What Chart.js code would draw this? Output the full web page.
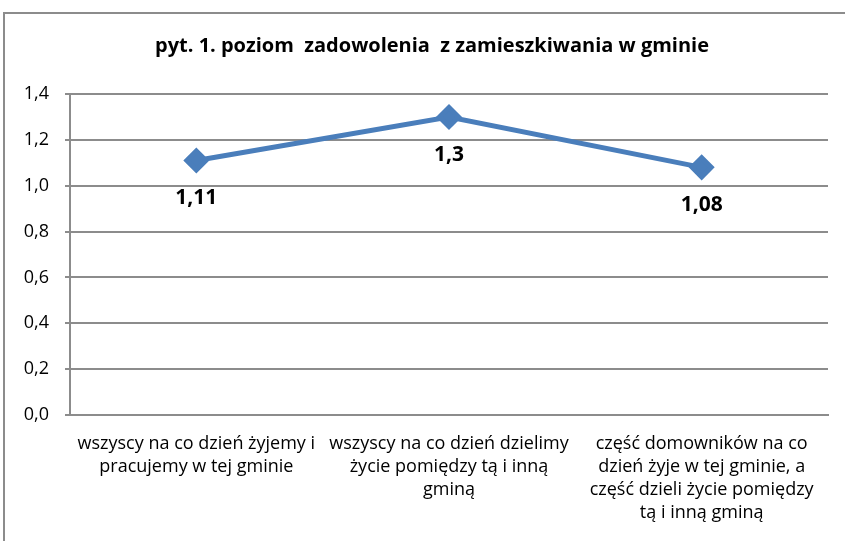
<!DOCTYPE html>
<html>
<head>
<meta charset="utf-8">
<script src="https://cdn.jsdelivr.net/npm/chart.js@4/dist/chart.umd.min.js"></script>
<style>
  html, body { margin: 0; padding: 0; background: #fff; overflow: hidden; }
  #wrap { position: relative; width: 845px; height: 541px; }
  #frame { position: absolute; left: 3px; top: 12px; width: 900px; height: 600px; border: 2px solid #8c8c8c; box-sizing: border-box; }
  canvas { position: absolute; left: 0; top: 0; }
</style>
</head>
<body>
<div id="wrap">
  <div id="frame"></div>
  <canvas id="chart" width="845" height="541"></canvas>
</div>
<script>
var chartTitle = 'pyt. 1. poziom  zadowolenia  z zamieszkiwania w gminie';
var categories = [
    ['wszyscy na co dzień żyjemy i', 'pracujemy w tej gminie'],
    ['wszyscy na co dzień dzielimy', 'życie pomiędzy tą i inną', 'gminą'],
    ['część domowników na co', 'dzień żyje w tej gminie, a', 'część dzieli życie pomiędzy', 'tą i inną gminą']
];
var values = [1.11, 1.3, 1.08];
var valueLabels = ['1,11', '1,3', '1,08'];
var yTicks = [0, 0.2, 0.4, 0.6, 0.8, 1.0, 1.2, 1.4];

var FONT = '"Liberation Sans Narrow", "Open Sans", sans-serif';

// title + point labels, drawn like Excel's data labels (below the marker)
var extras = {
    id: 'extras',
    afterDatasetsDraw: function (chart) {
        var ctx = chart.ctx;
        ctx.save();
        ctx.fillStyle = '#000';
        ctx.textAlign = 'center';
        ctx.textBaseline = 'middle';
        ctx.font = 'bold 20px ' + FONT;
        ctx.fillText(chartTitle, 432, 46);
        ctx.font = 'bold 21px ' + FONT;
        var meta = chart.getDatasetMeta(0);
        meta.data.forEach(function (pt, i) {
            ctx.fillText(valueLabels[i], pt.x, pt.y + 38);
        });
        ctx.restore();
    }
};

new Chart(document.getElementById('chart'), {
    type: 'line',
    data: {
        labels: categories,
        datasets: [{
            data: values,
            borderColor: '#4a7ebb',
            backgroundColor: '#4a7ebb',
            borderWidth: 5,
            pointStyle: 'rectRot',
            pointRadius: 9.5,
            pointHoverRadius: 9.5,
            tension: 0
        }]
    },
    options: {
        responsive: false,
        animation: false,
        events: [],
        layout: { padding: { left: 0, right: 17, top: 94, bottom: 0 } },
        plugins: {
            legend: { display: false },
            title: { display: false },
            tooltip: { enabled: false }
        },
        scales: {
            x: {
                offset: true,
                grid: { display: false, drawTicks: false },
                border: { color: '#8c8c8c', width: 2 },
                ticks: {
                    color: '#000',
                    font: { family: FONT, size: 18, lineHeight: 1.28 },
                    padding: 17,
                    maxRotation: 0,
                    autoSkip: false
                },
                afterFit: function (s) { s.height = 126; }
            },
            y: {
                min: 0,
                max: 1.4,
                afterBuildTicks: function (s) {
                    s.ticks = yTicks.map(function (v) { return { value: v }; });
                },
                grid: { color: '#8c8c8c', lineWidth: 2, tickLength: 5, drawTicks: true },
                border: { color: '#8c8c8c', width: 2 },
                ticks: {
                    color: '#000',
                    font: { family: FONT, size: 18 },
                    padding: 16,
                    callback: function (v) { return v.toFixed(1).replace('.', ','); }
                },
                afterFit: function (s) { s.width = 70; }
            }
        }
    },
    plugins: [extras]
});
</script>
</body>
</html>
